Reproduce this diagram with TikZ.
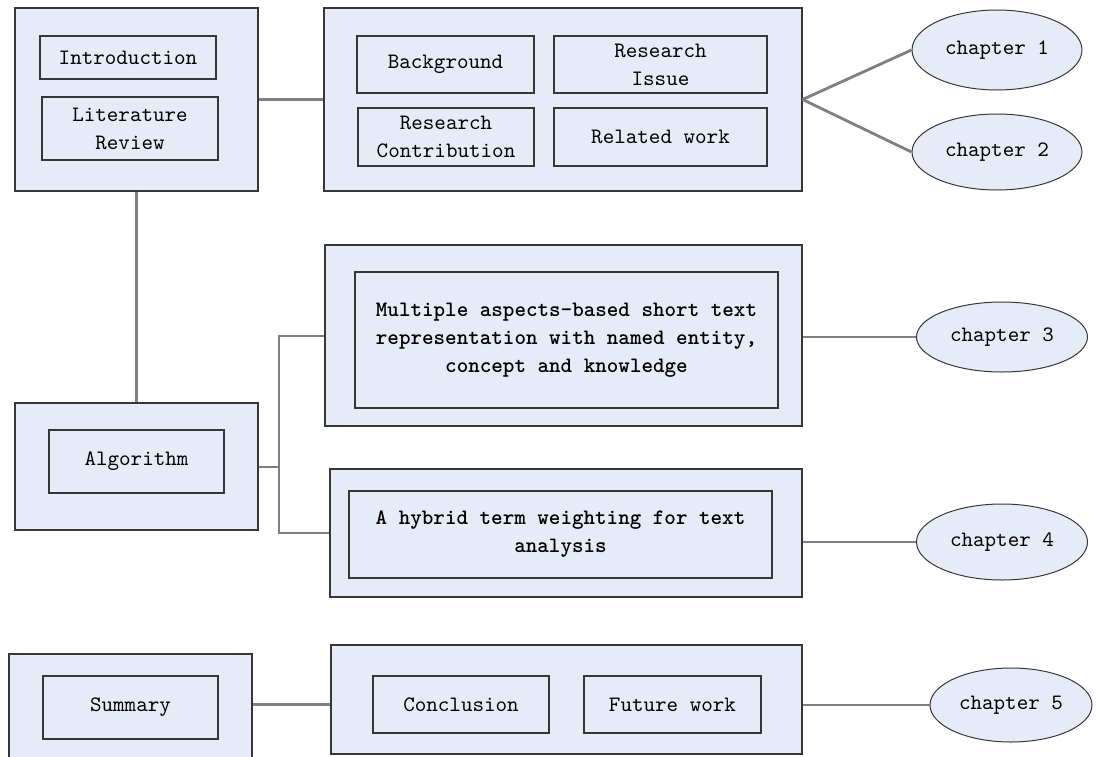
\documentclass[tikz,border=0pt]{standalone}
\usepackage{fontspec}
\setmainfont{lmmono10-regular.otf}[BoldFont=lmmonolt10-bold.otf]
\usetikzlibrary{shapes.geometric}
\definecolor{boxfill}{RGB}{230,236,247}
\definecolor{boxline}{RGB}{55,55,55}
\definecolor{conn}{RGB}{128,128,128}
\tikzset{
  x=1pt,y=-1pt,
  box/.style={draw=boxline, fill=boxfill, line width=1.2pt, rectangle, inner sep=0pt, align=center,
    font=\fontsize{22}{28}\selectfont},
  chap/.style={draw=boxline, fill=boxfill, line width=1pt, ellipse, inner sep=0pt,
    font=\fontsize{22}{28}\selectfont},
  link/.style={draw=conn, line width=2.8pt},
}
\begin{document}
\begin{tikzpicture}
\useasboundingbox (0,0) rectangle (1096,756);
\clip (0,0) rectangle (1096,756);
% outer boxes
\node[box, minimum width=243, minimum height=183] (A) at (136.5,99.5) {};
\node[box, minimum width=478, minimum height=183] (B) at (563,99.5) {};
\node[box, minimum width=243, minimum height=127] (Alg) at (136.5,466.5) {};
\node[box, minimum width=477, minimum height=181] (C) at (563.5,335.5) {};
\node[box, minimum width=472, minimum height=128] (D) at (566,533) {};
\node[box, minimum width=243, minimum height=116] (Sum) at (130.5,712) {};
\node[box, minimum width=471, minimum height=109] (E) at (566.5,699.5) {};
% inner boxes
\node[box, minimum width=176, minimum height=43] (intro) at (128,57.5) {Introduction};
\node[box, minimum width=176, minimum height=63] (lit) at (130,128.5) {Literature\\Review};
\node[box, minimum width=177, minimum height=57] (bg) at (445.5,64.5) {Background};
\node[box, minimum width=213, minimum height=57] (issue) at (660.5,64.5) {Research\\Issue};
\node[box, minimum width=176, minimum height=58] (contrib) at (446,137) {Research\\Contribution};
\node[box, minimum width=213, minimum height=58] (rel) at (660.5,137) {Related work};
\node[box, minimum width=175, minimum height=63] (algin) at (136.5,461.5) {Algorithm};
\node[box, minimum width=423, minimum height=136, font=\fontsize{22}{28}\selectfont\bfseries] (cin) at (566.5,340)
  {Multiple aspects-based short text\\representation with named entity,\\concept and knowledge};
\node[box, minimum width=423, minimum height=87, font=\fontsize{22}{28}\selectfont\bfseries] (din) at (560.5,534.5)
  {A hybrid term weighting for text\\analysis};
\node[box, minimum width=175, minimum height=63] (sumin) at (130.5,707.5) {Summary};
\node[box, minimum width=176, minimum height=57] (concl) at (461,704.5) {Conclusion};
\node[box, minimum width=177, minimum height=57] (fut) at (672.5,704.5) {Future work};
% chapters
\node[chap, minimum width=170, minimum height=80] (ch1) at (997,50) {chapter 1};
\node[chap, minimum width=170, minimum height=76] (ch2) at (997,152) {chapter 2};
\node[chap, minimum width=171, minimum height=70] (ch3) at (1002,337) {chapter 3};
\node[chap, minimum width=171, minimum height=76] (ch4) at (1002,542) {chapter 4};
\node[chap, minimum width=162, minimum height=74] (ch5) at (1011,705) {chapter 5};
% connectors
\coordinate (J) at (279,467);
\draw[link] (A.east) -- (B.west);
\draw[link] (A.south) -- (Alg.north);
\draw[link] (B.east) -- (ch1.west);
\draw[link] (B.east) -- (ch2.west);
\draw[link] (Alg.east |- J) -- (J);
\draw[link] (C.west |- 0,336) -| (J) |- (D.west);
\draw[link] (C.east |- ch3.west) -- (ch3.west);
\draw[link] (D.east |- ch4.west) -- (ch4.west);
\draw[link] (Sum.east |- concl) -- (E.west |- concl);
\draw[link] (E.east |- ch5.west) -- (ch5.west);
\end{tikzpicture}
\end{document}
